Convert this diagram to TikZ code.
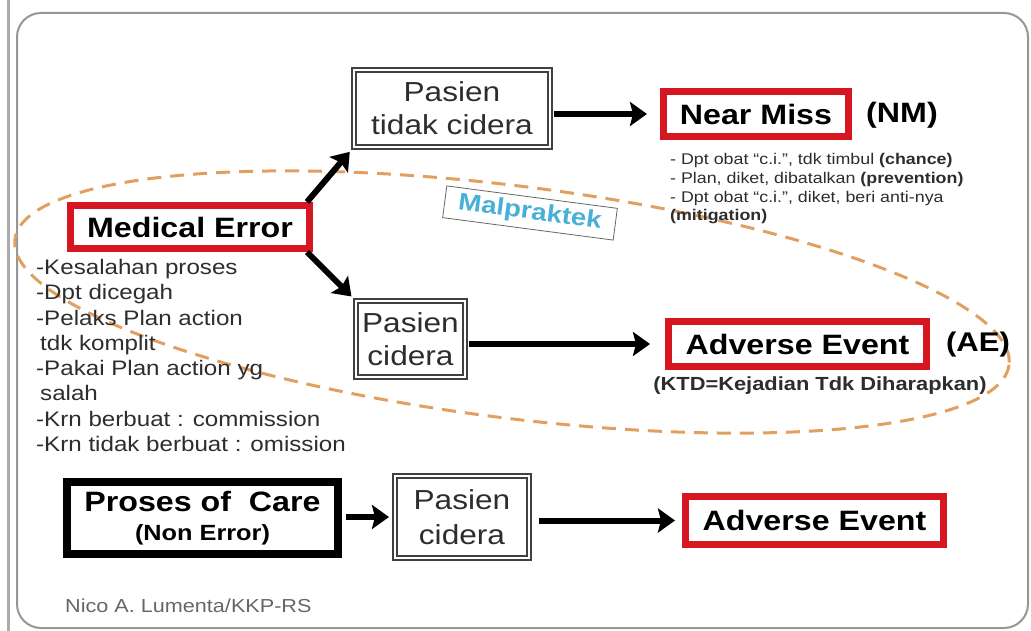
\documentclass[tikz,border=0pt]{standalone}
\usepackage{fontspec}
\setmainfont{Liberation Sans}[FakeStretch=1.15]
\usepackage{tikz}
\usetikzlibrary{arrows.meta}
\definecolor{errred}{RGB}{214,22,32}
\definecolor{malblue}{RGB}{72,176,214}
\definecolor{dashorange}{RGB}{226,160,96}
\definecolor{txtgray}{RGB}{45,45,45}
\definecolor{framegray}{RGB}{150,150,150}

\begin{document}
\begin{tikzpicture}[x=1pt,y=-1pt,
  redbox/.style={draw=errred,line width=7pt,fill=white,inner sep=0pt,minimum width=#1,minimum height=45pt,font=\bfseries\fontsize{28}{30}\selectfont},
  dblbox/.style={draw=black!75,double=white,double distance=2pt,line width=2pt,fill=white,inner sep=0pt,align=center,text=txtgray,font=\fontsize{27.5}{33}\selectfont},
  bullets/.style={anchor=north west,inner sep=0pt,align=left,text=txtgray},
  bigarrow/.style={line width=6pt,-{Stealth[length=17pt,width=24pt,inset=3pt]}},
  tag/.style={font=\bfseries\fontsize{#1}{#1}\selectfont}
  ]
\useasboundingbox (0,0) rectangle (1031,631);
\def\cx{512}
\def\cy{302}
\draw[framegray!80,line width=3pt] (8,0) -- (8,631);                             % left rule
\draw[framegray,line width=2pt,rounded corners=24pt] (17,13) rectangle (1028,628); % slide frame
\draw[dashorange,line width=3pt,dash pattern=on 14pt off 9pt,
  rotate around={-7.2:(\cx,\cy)}] (\cx,\cy) ellipse (501 and 116);               % malpraktek area
% upper row
\node[dblbox,minimum width=196,minimum height=77] (ptc) at (452,108.5) {Pasien\\tidak cidera};
\node[redbox=185] (nm) at (756,114) {Near Miss};
\node[tag=28] (nmtag) at (902,115) {(NM)};
\node[bullets,font=\fontsize{15.5}{18.8}\selectfont] (nmlist) at (670,153) {%
- Dpt obat “c.i.”, tdk timbul \textbf{(chance)}\\
- Plan, diket, dibatalkan \textbf{(prevention)}\\
- Dpt obat “c.i.”, diket, beri anti-nya\\
\textbf{(mitigation)}};
% medical error
\node[redbox=239,minimum height=43pt] (me) at (190,227) {Medical Error};
\node[bullets,font=\fontsize{21}{25.3}\selectfont] (melist) at (36,259) {%
-Kesalahan proses\\
-Dpt dicegah\\
-Pelaks Plan action\\
\hspace*{4pt}tdk komplit\\
-Pakai Plan action yg\\
\hspace*{4pt}salah\\
-Krn berbuat : commission\\
-Krn tidak berbuat : omission};
\node[draw=black!60,line width=0.8pt,fill=white,minimum width=172,minimum height=32,
  rotate=-7.5,text=malblue,tag=24] (mal) at (530,213) {Malpraktek};
% middle row
\node[dblbox,minimum width=109,minimum height=76] (pc) at (410.5,339) {Pasien\\cidera};
\node[redbox=258] (ae) at (797.5,344) {Adverse Event};
\node[tag=27] (aetag) at (978,345) {(AE)};
\node[tag=19,text=txtgray] (ktd) at (820,386) {(KTD=Kejadian Tdk Diharapkan)};
% bottom row
\node[draw,line width=8pt,fill=white,inner sep=0pt,minimum width=271,minimum height=72,
  align=center,font=\bfseries\fontsize{28}{29}\selectfont] (poc) at (202.5,518)
  {Proses of\ \ Care\\{\fontsize{22}{24}\selectfont (Non Error)}};
\node[dblbox,minimum width=134,minimum height=82,font=\fontsize{27.5}{35}\selectfont] (pc2) at (462,517) {Pasien\\cidera};
\node[redbox=258,minimum height=48pt] (ae2) at (814.5,520.5) {Adverse Event};
\node[anchor=north west,inner sep=0pt,text=black!60,font=\fontsize{18.8}{20}\selectfont] (credit) at (65,599) {Nico A. Lumenta/KKP-RS};
% connectors
\draw[bigarrow,shorten <=3pt,shorten >=13pt] (ptc.east |- nm.west) -- (nm.west);
\draw[bigarrow,shorten >=5pt] ([xshift=-6pt]me.north east) -- (ptc.south west);
\draw[bigarrow,shorten >=5pt] ([xshift=-6pt]me.south east) -- (pc.north west);
\draw[bigarrow,shorten <=3pt,shorten >=15pt] (pc.east |- ae.west) -- (ae.west);
\draw[bigarrow,shorten <=4pt,shorten >=5pt] (poc.east |- pc2.west) -- (pc2.west);
\draw[bigarrow,shorten <=9pt,shorten >=7pt] (pc2.east |- ae2.west) -- (ae2.west);
\end{tikzpicture}
\end{document}
